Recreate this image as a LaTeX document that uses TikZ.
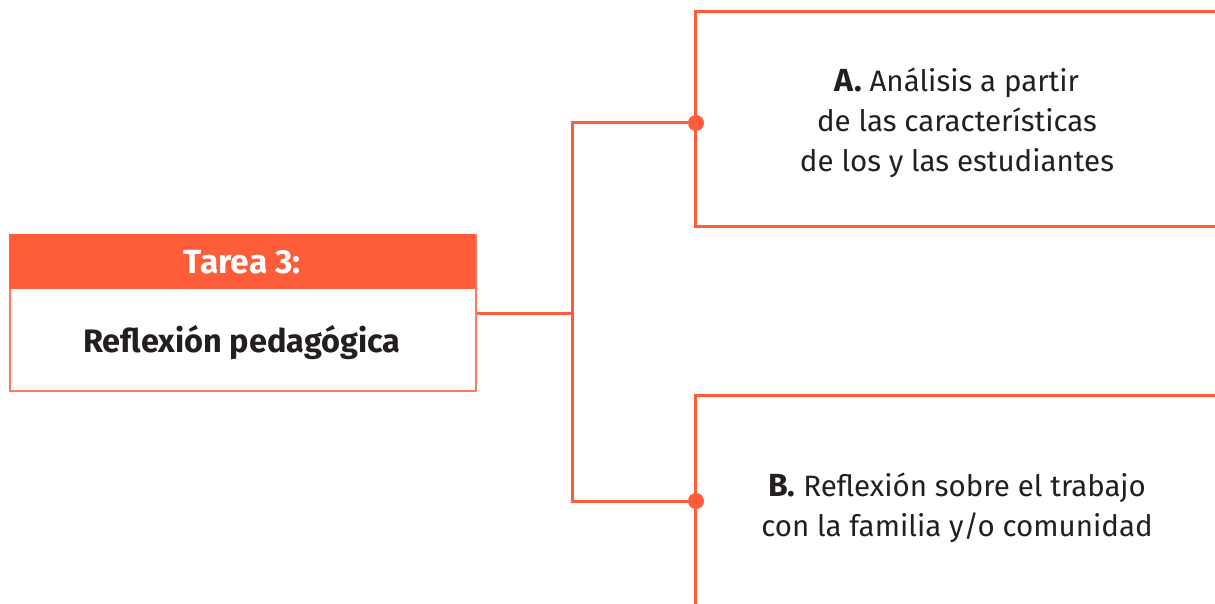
\documentclass[tikz,border=0pt]{standalone}
\usepackage{fontspec}
\setmainfont{Fira Sans}
\definecolor{orng}{HTML}{FF5C39}
\definecolor{orngl}{HTML}{FF7A5A}
\definecolor{ink}{HTML}{231F20}
\begin{document}
\begin{tikzpicture}[x=1pt,y=-1pt,
  line/.style={draw=orng,line width=3pt},
  dotnode/.style={circle,fill=orng,inner sep=0pt,minimum size=16pt},
  bodytext/.style={align=center,text=ink,font=\fontsize{29.5}{40}\selectfont}]
\useasboundingbox (0,0) rectangle (1215,604);
% left task box
\node[draw=orngl,line width=2pt,minimum width=466pt,minimum height=156pt,inner sep=0pt,anchor=north west] (task) at (9,234) {};
\node[fill=orng,minimum width=466pt,minimum height=55pt,inner sep=0pt,anchor=north west,text=white,font=\fontsize{33.5}{36}\selectfont\bfseries] (head) at (9,234) {Tarea 3:};
\node[text=ink,font=\fontsize{32.5}{36}\selectfont\bfseries] (title) at (242,343) {Reflexión pedagógica};
% open boxes
\draw[line] (1216,12) -- (695,12) -- (695,226) -- (1216,226);
\draw[line] (1216,395) -- (695,395) -- (695,606);
\node[bodytext] (textA) at (957,123) {{\fontsize{32}{40}\selectfont\textbf{A.}} Análisis a partir\\de las características\\de los y las estudiantes};
\node[bodytext] (textB) at (957,508) {{\fontsize{32}{40}\selectfont\textbf{B.}} Reflexión sobre el trabajo\\con la familia y/o comunidad};
% dots and connectors
\node[dotnode] (dotA) at (696,123) {};
\node[dotnode] (dotB) at (696,501) {};
\coordinate (junction) at (572,313);
\draw[line] (task.east) -- (junction);
\draw[line] (dotA.center) -| (junction) |- (dotB.center);
\end{tikzpicture}
\end{document}
